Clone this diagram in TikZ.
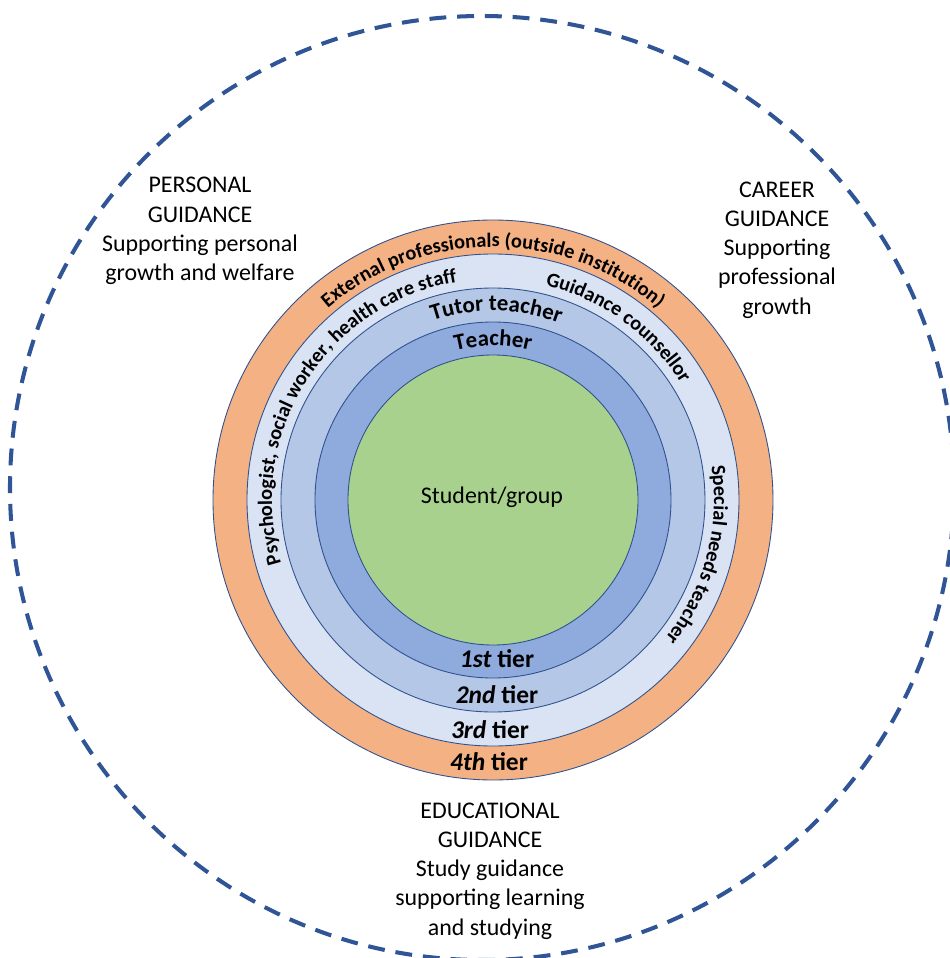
\documentclass[tikz,border=0pt]{standalone}
\usepackage{fontspec}
\setmainfont{Carlito}
\usetikzlibrary{decorations.text}

\definecolor{tierone}{HTML}{8FAADC}
\definecolor{tiertwo}{HTML}{B4C7E7}
\definecolor{tierthree}{HTML}{DAE3F3}
\definecolor{tierfour}{HTML}{F4B183}
\definecolor{studentgreen}{HTML}{A9D18E}
\definecolor{ringedge}{HTML}{2F528F}
\definecolor{guideblue}{HTML}{2F5597}

\newcommand{\ringfont}{\fontsize{11.6}{13}\selectfont\bfseries}
\newcommand{\innerfont}{\fontsize{13}{15}\selectfont\bfseries}

\begin{document}
\begin{tikzpicture}[x=0.02cm,y=0.02cm]
		\tikzset{ring/.style = {draw=ringedge, line width=0.5pt},
			guidance/.style = {draw=guideblue, line width=2.3pt, dash pattern=on 9.6pt off 6.2pt},
			area/.style = {align=center, inner sep=0pt, font=\fontsize{13.6}{16.6}\selectfont},
			tier/.style = {inner sep=0pt, font=\fontsize{14.5}{17}\selectfont\bfseries},
			arclabel/.style = {decorate, decoration={text along path, text align=center, text={#1}}}}

		\useasboundingbox (-493,-458) rectangle (457,500);

		\coordinate (centre) at (0,0);
		\coordinate (outer) at (-11,12);

		\draw[guidance] (outer) circle[radius=472];

		\draw[ring, fill=tierfour] (centre) circle[radius=280];
		\draw[ring, fill=tierthree] (centre) circle[radius=246];
		\draw[ring, fill=tiertwo] (centre) circle[radius=212];
		\draw[ring, fill=tierone] (centre) circle[radius=178];
		\draw[ring, fill=studentgreen] (centre) circle[radius=145];

		\node[area] (student) at (-1,3) {Student/group};

		\node[area] (personal) at (-293,269) {PERSONAL\\GUIDANCE\\Supporting personal\\growth and welfare};
		\node[area] (career) at (284,250) {CAREER\\GUIDANCE\\Supporting\\professional\\growth};
		\node[area] (educational) at (-3,-371) {EDUCATIONAL\\GUIDANCE\\Study guidance\\supporting learning\\and studying};

		\path[arclabel={|\ringfont|External professionals (outside institution)}] (180:253) arc[start angle=180, end angle=0, radius=253];
		\path[arclabel={|\ringfont|Psychologist, social worker, health care staff}] (238:221) arc[start angle=238, end angle=58, radius=221];
		\path[arclabel={|\ringfont|Guidance counsellor}] (100:221) arc[start angle=100, end angle=8, radius=221];
		\path[arclabel={|\ringfont|Special needs teacher}] (35:221) arc[start angle=35, end angle=-65, radius=221];
		\path[arclabel={|\innerfont|Tutor teacher}] (150:189) arc[start angle=150, end angle=28, radius=189];
		\path[arclabel={|\innerfont|Teacher}] (150:154) arc[start angle=150, end angle=30, radius=154];

		\node[tier] (tier1) at (4,-159) {\textit{1st} tier};
		\node[tier] (tier2) at (4,-195) {\textit{2nd} tier};
		\node[tier] (tier3) at (-3,-230) {\textit{3rd} tier};
		\node[tier] (tier4) at (-4,-262) {\textit{4th} tier};

	\end{tikzpicture}
\end{document}
